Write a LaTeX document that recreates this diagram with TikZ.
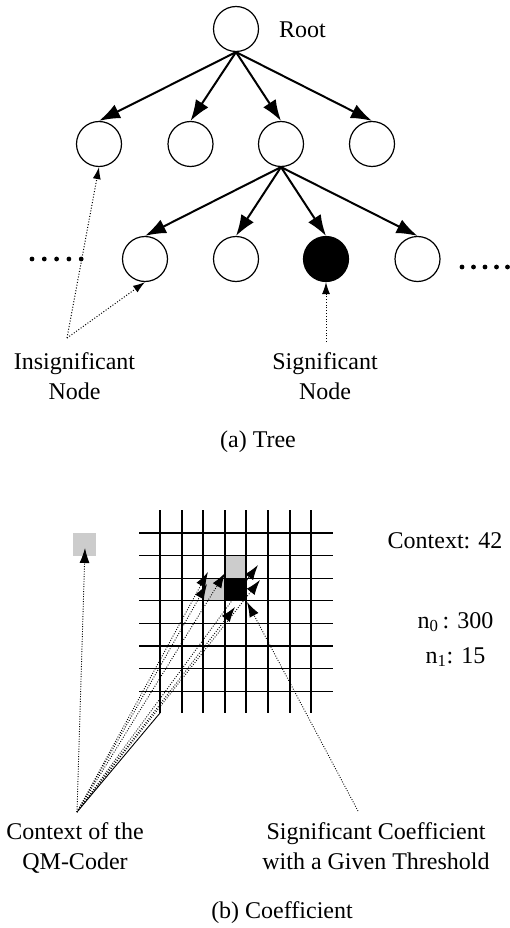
\documentclass[tikz,border=0pt]{standalone}
\usepackage{fontspec}
\setmainfont{Liberation Serif}
\usetikzlibrary{arrows.meta}
\begin{document}
\begin{tikzpicture}[x=1pt,y=-1pt,
  every node/.style={font=\fontsize{24}{30}\selectfont, inner sep=0pt},
  tnode/.style={circle, draw, line width=1.2pt, minimum size=45pt},
  signode/.style={tnode, fill=black},
  treearrow/.style={line width=2pt, -{Latex[length=21pt,width=15pt]}},
  dotarrow/.style={line width=1pt, dash pattern=on 1pt off 1.8pt, -{Latex[length=12pt,width=8pt]}},
  ctxarrow/.style={line width=0.9pt, dash pattern=on 0.9pt off 1.6pt, -{Latex[length=15pt,width=10pt]}},
  lbl/.style={anchor=base, align=center},
  vline/.style={line width=2pt},
  hline/.style={line width=1.3pt},
  cellgray/.style={fill=gray!40}]
\useasboundingbox (0,0) rectangle (510,928);

% ---------- (a) Tree ----------
\node[tnode] (root) at (236,29) {};
\node[anchor=base] (rootlbl) at (302.5,38) {Root};
\node[tnode] (a1) at (99,144) {};
\node[tnode] (a2) at (190.5,144) {};
\node[tnode] (a3) at (281,144) {};
\node[tnode] (a4) at (372,144) {};
\node[tnode] (b1) at (145,259) {};
\node[tnode] (b2) at (236,259) {};
\node[signode] (b3) at (326,259) {};
\node[tnode] (b4) at (417.5,259) {};

\foreach \c in {a1,a2,a3,a4} \draw[treearrow] (root.south) -- (\c.north);
\foreach \c in {b1,b2,b3,b4} \draw[treearrow] (a3.south) -- (\c.north);

\foreach \x in {32,44.3,56.6,68.9,81.2} \fill (\x,259) circle (2.4pt);
\foreach \x in {462,473.5,485,496.5,507.5} \fill (\x,267) circle (2.4pt);

\coordinate (insapex) at (67,338);
\draw[dotarrow] (insapex) -- (a1.south);
\draw[dotarrow] (insapex) -- (b1.south);
\node[lbl] (inslbl) at (74.5,399) {Insignificant\\Node};

\coordinate (sigfoot) at (326,342);
\draw[dotarrow] (sigfoot) -- (b3.south);
\node[lbl] (siglbl) at (325,399) {Significant\\Node};

\node[lbl] (capa) at (258,447) {(a) Tree};

% ---------- (b) Coefficient ----------
\fill[cellgray] (224.8,555.6) rectangle (246.4,578.2);
\fill[cellgray] (203.2,578.2) rectangle (224.8,600.8);
\fill[black] (224.8,578.2) rectangle (246.4,600.8);
\foreach \i in {0,...,7} \draw[vline] ({160+21.6*\i},510) -- ({160+21.6*\i},713);
\foreach \j in {0,...,7} \draw[hline] (139,{533+22.6*\j}) -- (333,{533+22.6*\j});

\node[cellgray, minimum size=23pt] (ctxsq) at (84.5,544.5) {};

\coordinate (ctxapex) at (77,812);
\coordinate (sqtip) at (85,548);
\coordinate (t1) at (208,572);
\coordinate (t2) at (207,584);
\coordinate (t3) at (225,573);
\coordinate (t4) at (258,565);
\coordinate (t5) at (260,580);
\coordinate (t6) at (235,607);
\coordinate (g1bot) at (160,713);
\draw[ctxarrow] (ctxapex) -- (sqtip);
\foreach \t in {t1,t2,t3,t4,t5,t6} \draw[ctxarrow] (ctxapex) -- (\t);
\draw[line width=0.9pt] (ctxapex) -- (g1bot);

\coordinate (scfoot) at (358,811);
\coordinate (t7) at (247,602);
\draw[ctxarrow] (scfoot) -- (t7);

\node[anchor=base] (ctx) at (445,548) {Context: 42};
\node[anchor=base] (n0) at (455.5,628) {n\textsubscript{0}\,: 300};
\node[anchor=base] (n1) at (455.5,663) {n\textsubscript{1}: 15};

\node[lbl] (ctxlbl) at (75,869) {Context of the\\QM-Coder};
\node[lbl] (sclbl) at (376,869) {Significant Coefficient\\with a Given Threshold};
\node[lbl] (capb) at (282,918) {(b) Coefficient};
\end{tikzpicture}
\end{document}
